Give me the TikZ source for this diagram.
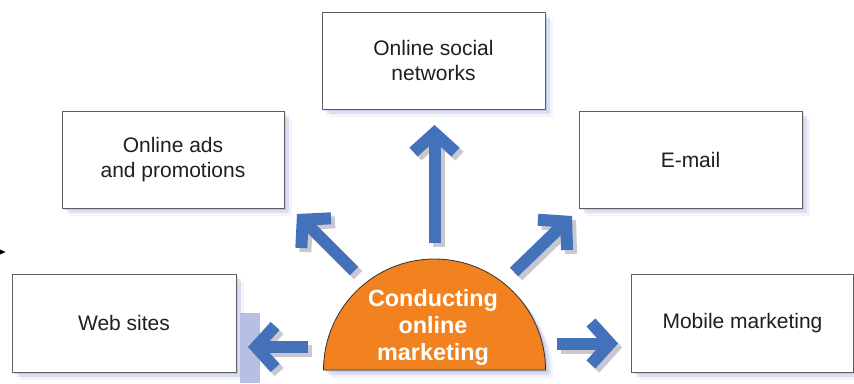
\documentclass[tikz,border=0pt]{standalone}
\usepackage{fontspec}
\setmainfont{Liberation Sans}
\usetikzlibrary{arrows.meta,shadows}
\definecolor{arrblue}{RGB}{68,114,186}
\definecolor{orng}{RGB}{242,130,32}
\definecolor{glow}{RGB}{150,165,222}
\definecolor{edgec}{RGB}{95,95,95}
\definecolor{lightrect}{RGB}{182,192,228}
\definecolor{ashadow}{RGB}{200,200,205}
\begin{document}
\begin{tikzpicture}[x=1pt,y=-1pt,
  glowshadow/.style={
    drop shadow={shadow xshift=2pt,shadow yshift=-2pt,fill=glow,opacity=0.4},
    drop shadow={shadow xshift=5pt,shadow yshift=-5pt,fill=glow,opacity=0.25},
    drop shadow={shadow xshift=8pt,shadow yshift=-8pt,fill=glow,opacity=0.12}},
  box/.style={draw=edgec, line width=0.9pt, fill=white, align=center,
    inner sep=0pt, font=\fontsize{21}{25}\selectfont, text=black!88, glowshadow},
  arr/.style={draw=arrblue, line width=12pt, -{Straight Barb[length=19pt,width=42pt]}},
  arrsh/.style={arr, draw=ashadow, transform canvas={shift={(4pt,-4pt)}}},
  centertext/.style={font=\bfseries\fontsize{23.4}{27}\selectfont, text=white, align=center}
]
\useasboundingbox (0,0) rectangle (854,383);
\fill[white] (0,0) rectangle (854,383);

% boxes
\node[box, minimum width=224pt, minimum height=98pt] (web) at (124,323) {Web sites};
\node[box, minimum width=222pt, minimum height=97pt] (ads) at (173,159.5) {Online ads\\and promotions};
\node[box, minimum width=223pt, minimum height=97pt] (soc) at (433.5,60.5) {Online social\\networks};
\node[box, minimum width=223pt, minimum height=97pt] (mail) at (690.5,159.5) {E-mail};
\node[box, minimum width=222pt, minimum height=98pt] (mob) at (742.5,323) {Mobile marketing};

% artefacts
\fill[lightrect] (240,313) rectangle (260,383);
\fill[black] (0,249.5) -- (5.5,252) -- (0,254.5) -- cycle;

% semicircle
\coordinate (cc) at (434.5,370);
\draw[draw=black!80, line width=0.8pt, fill=orng, glowshadow]
  ([xshift=-111pt]cc) arc[start angle=180, end angle=0, radius=111pt] -- cycle;
\node[centertext] (c) at (433,327.5) {Conducting\\online\\marketing};

% arrow endpoints
\coordinate (t1) at (434.5,243); \coordinate (h1) at (434.5,125);
\coordinate (t2) at (354,271);   \coordinate (h2) at (297,214);
\coordinate (t3) at (514,272);   \coordinate (h3) at (572,216);
\coordinate (t4) at (308,347);   \coordinate (h4) at (248,347);
\coordinate (t5) at (557,343.5); \coordinate (h5) at (618,343.5);

\foreach \i in {1,...,5} { \draw[arrsh] (t\i) -- (h\i); }
\foreach \i in {1,...,5} { \draw[arr] (t\i) -- (h\i); }
\end{tikzpicture}
\end{document}
